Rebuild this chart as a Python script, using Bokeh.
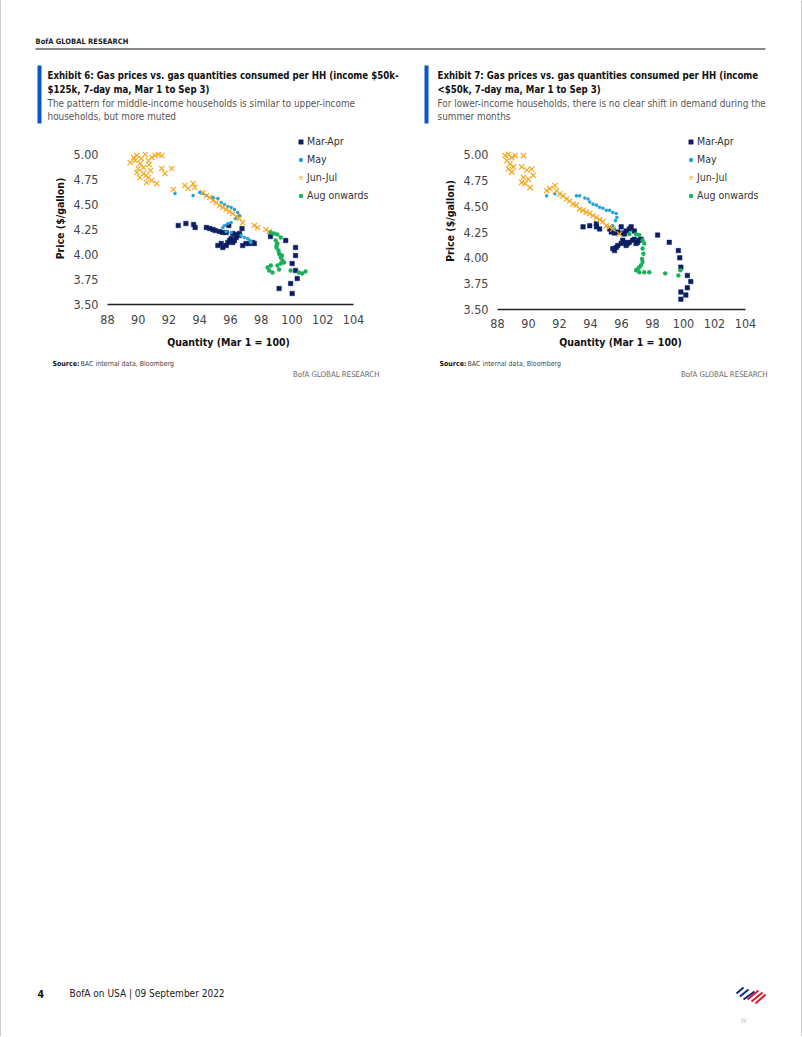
import subprocess
from bokeh.plotting import figure
from bokeh.layouts import column, row
from bokeh.models import Range1d, FixedTicker, PrintfTickFormatter
from bokeh.core.properties import value
from bokeh.embed import file_html
from bokeh.resources import INLINE


def font_available(name):
    try:
        out = subprocess.run(["fc-list", ":", "family"], capture_output=True, text=True).stdout
        return name.lower() in out.lower()
    except Exception:
        return False


NARROW = next((f for f in ["Liberation Sans Narrow", "DejaVu Sans Condensed", "Roboto Condensed"]
               if font_available(f)), "Roboto")

# ---------------- data ----------------
X_TICKS = [88, 90, 92, 94, 96, 98, 100, 102, 104]
Y_TICKS = [3.50, 3.75, 4.00, 4.25, 4.50, 4.75, 5.00]
SERIES = ["Mar-Apr", "May", "Jun-Jul", "Aug onwards"]
X_LABEL = "Quantity (Mar 1 = 100)"
Y_LABEL = "Price ($/gallon)"

# Exhibit 6: income $50k-$125k
ex6_marapr_q = [92.6, 93.1, 93.6, 93.7, 94.43, 94.65, 94.86, 95.0, 95.29, 95.5, 95.72, 95.89, 96.15, 96.37,
                96.58, 96.75, 95.18, 95.4, 95.5, 95.72, 95.83, 95.94, 96.04, 96.15, 96.26, 96.37, 96.58,
                96.79, 97.01, 97.23, 97.44, 97.55, 98.6, 99.59, 100.23, 100.23, 100.01, 100.23, 100.34,
                99.16, 99.91, 100.01]
ex6_marapr_p = [4.29, 4.31, 4.30, 4.27, 4.27, 4.26, 4.25, 4.24, 4.23, 4.22, 4.22, 4.29, 4.21, 4.20,
                4.21, 4.26, 4.09, 4.11, 4.07, 4.09, 4.12, 4.14, 4.16, 4.12, 4.14, 4.17, 4.19,
                4.09, 4.11, 4.11, 4.12, 4.11, 4.18, 4.14, 4.07, 3.99, 3.91, 3.84, 3.76,
                3.66, 3.71, 3.61]
ex6_may_q = [92.39, 93.57, 94.0, 94.21, 94.43, 94.86, 95.18, 95.4, 95.61, 95.83, 96.04, 96.26, 96.47,
             96.58, 96.32, 96.04, 95.83, 95.61, 95.5, 95.72, 96.04, 96.69, 96.9, 97.12, 97.27, 97.33]
ex6_may_p = [4.61, 4.59, 4.62, 4.61, 4.59, 4.57, 4.56, 4.52, 4.50, 4.48, 4.47, 4.45, 4.42,
             4.39, 4.36, 4.32, 4.31, 4.29, 4.27, 4.23, 4.22, 4.19, 4.17, 4.16, 4.14, 4.12]
ex6_junjul_q = [89.91, 90.45, 89.48, 89.7, 90.13, 90.34, 90.66, 90.88, 91.1, 91.31, 91.53, 89.91, 90.34,
                90.66, 90.88, 91.2, 90.55, 91.53, 91.74, 92.17, 92.28, 93.03, 93.25, 93.57, 93.68, 94.21,
                94.43, 94.65, 94.86, 95.07, 95.29, 95.5, 95.72, 95.94, 96.15, 96.37, 96.58, 96.79, 97.55,
                97.76, 98.3, 98.52, 89.8, 90.2, 90.7, 90.1, 90.5, 90.8, 90.0]
ex6_junjul_p = [4.99, 5.00, 4.92, 4.97, 4.91, 4.87, 4.94, 4.97, 4.99, 5.00, 4.99, 4.82, 4.81,
                4.77, 4.74, 4.71, 4.72, 4.86, 4.81, 4.86, 4.65, 4.69, 4.66, 4.71, 4.67, 4.62,
                4.59, 4.57, 4.54, 4.52, 4.49, 4.47, 4.45, 4.43, 4.41, 4.38, 4.36, 4.32, 4.29,
                4.27, 4.25, 4.23, 4.94, 4.96, 4.90, 4.77, 4.79, 4.84, 4.86]
ex6_aug_q = [98.62, 98.84, 99.05, 99.27, 98.94, 99.05, 98.99, 99.12, 99.16, 99.27, 99.38, 99.48, 99.27,
             99.05, 98.62, 98.41, 98.52, 98.73, 99.16, 99.91, 100.45, 100.66, 100.88, 99.0, 99.2, 99.35]
ex6_aug_p = [4.22, 4.21, 4.20, 4.17, 4.14, 4.11, 4.07, 4.04, 4.01, 3.97, 3.94, 3.92, 3.91,
             3.89, 3.89, 3.87, 3.84, 3.82, 3.85, 3.84, 3.82, 3.81, 3.83, 4.09, 4.00, 3.99]

# Exhibit 7: income <$50k
ex7_marapr_q = [93.52, 93.95, 94.38, 94.59, 95.23, 95.44, 95.34, 95.55, 95.76, 95.98, 96.08, 96.19, 96.3,
                96.51, 96.62, 96.83, 96.72, 96.51, 96.4, 96.3, 96.08, 96.19, 95.98, 95.76, 95.66, 95.55,
                95.44, 96.83, 96.94, 97.04, 97.15, 97.26, 98.33, 99.08, 99.67, 99.76, 99.83, 100.25,
                100.47, 100.25, 100.15, 99.83, 99.83, 94.38]
ex7_marapr_p = [4.30, 4.31, 4.30, 4.28, 4.28, 4.26, 4.25, 4.24, 4.25, 4.30, 4.24, 4.23, 4.26,
                4.28, 4.30, 4.26, 4.17, 4.15, 4.14, 4.12, 4.17, 4.15, 4.14, 4.12, 4.10, 4.07,
                4.09, 4.18, 4.14, 4.15, 4.17, 4.18, 4.22, 4.15, 4.07, 4.00, 3.91, 3.83,
                3.77, 3.71, 3.64, 3.67, 3.60, 4.33]
ex7_may_q = [91.17, 91.7, 93.09, 93.3, 93.63, 93.84, 93.95, 94.16, 94.38, 94.59, 94.8, 95.02, 95.23,
             95.44, 95.66, 95.7, 95.61, 95.44, 95.55]
ex7_may_p = [4.60, 4.62, 4.60, 4.60, 4.58, 4.57, 4.54, 4.52, 4.51, 4.49, 4.48, 4.46, 4.46,
             4.44, 4.43, 4.39, 4.36, 4.31, 4.28]
ex7_junjul_q = [88.49, 88.71, 88.92, 89.14, 88.6, 88.81, 89.03, 88.71, 88.92, 89.67, 89.56, 89.89, 90.21,
                90.31, 89.67, 89.99, 89.56, 90.1, 89.78, 91.17, 91.38, 91.7, 91.81, 92.02, 92.23, 92.45,
                92.66, 92.87, 93.09, 93.3, 93.52, 93.73, 93.95, 94.16, 94.38, 94.59, 94.8, 95.02, 95.23,
                95.44, 95.87]
ex7_junjul_p = [4.99, 5.00, 4.97, 4.99, 4.94, 4.91, 4.88, 4.86, 4.83, 4.99, 4.88, 4.85, 4.86,
                4.80, 4.78, 4.76, 4.73, 4.68, 4.72, 4.65, 4.67, 4.70, 4.65, 4.62, 4.60, 4.57,
                4.55, 4.52, 4.51, 4.47, 4.46, 4.44, 4.43, 4.41, 4.39, 4.37, 4.35, 4.31, 4.30,
                4.28, 4.23]
ex7_aug_q = [96.51, 96.94, 97.15, 97.36, 97.47, 97.36, 97.41, 97.33, 97.36, 97.26, 97.15, 97.04, 96.94,
             97.15, 97.47, 97.79, 98.82, 99.67, 99.8]
ex7_aug_p = [4.23, 4.23, 4.22, 4.17, 4.14, 4.09, 4.04, 3.99, 3.96, 3.93, 3.91, 3.89, 3.88,
             3.86, 3.86, 3.86, 3.85, 3.83, 3.88]

# ---------------- styles ----------------
NAVY = "#0c1f63"
LBLUE = "#27a3dc"
ORANGE = "#f3a720"
GREEN = "#1ab15a"
BAR_BLUE = "#0a55c8"
TXT = "#222222"
GREY_TXT = "#555555"
BORDER = "#9a9a9a"


def blank(w, h, x0, y0, bg="white"):
    f = figure(width=w, height=h, x_range=Range1d(x0, x0 + w), y_range=Range1d(y0 + h, y0),
               output_backend="svg", toolbar_location=None, min_border=0,
               x_axis_type=None, y_axis_type=None)
    f.outline_line_color = None
    f.background_fill_color = bg
    f.border_fill_color = bg
    f.frame_align = False
    return f


def txt(f, x, y, s, size, color=TXT, style="normal", align="left", font=None):
    f.text(x=[x], y=[y], text=[s], text_font=value(font or NARROW), text_font_size=size,
           text_font_style=style, text_color=color, text_align=align, text_baseline="middle")


# ---------------- header (page y 0..132) ----------------
W = 800
header = blank(W, 132, 1, 0)
txt(header, 35, 41, "BofA GLOBAL RESEARCH", "7.5px", color="#1a1a1a", style="bold")
header.segment(x0=[35], y0=[48.5], x1=[765], y1=[48.5], line_color="#111111", line_width=1.2)
for bx, tx, title, sub in [
    (37, 47, ["Exhibit 6: Gas prices vs. gas quantities consumed per HH (income $50k-",
              "$125k, 7-day ma, Mar 1 to Sep 3)"],
     ["The pattern for middle-income households is similar to upper-income",
      "households, but more muted"]),
    (424, 437, ["Exhibit 7: Gas prices vs. gas quantities consumed per HH (income",
                "<$50k, 7-day ma, Mar 1 to Sep 3)"],
     ["For lower-income households, there is no clear shift in demand during the",
      "summer months"]),
]:
    header.quad(left=[bx], right=[bx + 4], top=[65], bottom=[123], fill_color=BAR_BLUE, line_color=None)
    txt(header, tx, 75, title[0], "9.6px", color="#111111", style="bold")
    txt(header, tx, 89, title[1], "9.6px", color="#111111", style="bold")
    txt(header, tx, 103, sub[0], "9.9px", color=GREY_TXT)
    txt(header, tx, 116, sub[1], "9.9px", color=GREY_TXT)


# ---------------- charts (page y 132..335) ----------------
def chart(data, width, left, ppu, height, frame_h, ppd, legend_bottom, x_standoff):
    frame_w = width - left
    ytop = 3.5 + frame_h / ppd
    xend = 88 + frame_w / ppu
    p = figure(width=width, height=height, x_range=Range1d(88, xend), y_range=Range1d(3.5, ytop),
               output_backend="svg", toolbar_location=None,
               min_border_left=left, min_border_right=0,
               min_border_top=0, min_border_bottom=height - frame_h)
    p.frame_align = False
    p.outline_line_color = None
    p.grid.visible = False
    (mq, mp), (yq, yp), (jq, jp), (aq, ap) = data
    p.scatter(mq, mp, marker="square", size=4.5, fill_color=NAVY, line_color=NAVY, line_width=0.5,
              legend_label=SERIES[0])
    p.scatter(yq, yp, marker="circle", size=3.6, fill_color=LBLUE, line_color=None, legend_label=SERIES[1])
    p.scatter(jq, jp, marker="x", size=7.5, line_color=ORANGE, line_width=1.2, legend_label=SERIES[2])
    p.scatter(aq, ap, marker="circle", size=4.4, fill_color=GREEN, line_color=None, legend_label=SERIES[3])

    xa = p.xaxis[0]
    xa.ticker = FixedTicker(ticks=X_TICKS)
    xa.bounds = (X_TICKS[0], X_TICKS[-1])
    xa.minor_tick_line_color = None
    xa.major_tick_line_color = None
    xa.axis_line_color = "#222222"
    xa.axis_line_width = 1.3
    xa.major_label_standoff = x_standoff
    xa.major_label_text_font = NARROW
    xa.major_label_text_font_size = "12.5px"
    xa.major_label_text_color = "#444444"

    ya = p.yaxis[0]
    ya.ticker = FixedTicker(ticks=Y_TICKS)
    ya.formatter = PrintfTickFormatter(format="%.2f")
    ya.minor_tick_line_color = None
    ya.major_tick_line_color = None
    ya.axis_line_color = None
    ya.major_label_standoff = 3
    ya.major_label_text_font = NARROW
    ya.major_label_text_font_size = "12.5px"
    ya.major_label_text_color = "#444444"
    ya.axis_label = Y_LABEL
    ya.axis_label_text_font = NARROW
    ya.axis_label_text_font_size = "10.5px"
    ya.axis_label_text_font_style = "bold"
    ya.axis_label_text_color = "#111111"
    ya.axis_label_standoff = 4

    lg = p.legend[0]
    lg.location = (188, legend_bottom)
    lg.background_fill_alpha = 0
    lg.border_line_color = None
    lg.padding = 0
    lg.margin = 0
    lg.spacing = 4
    lg.label_height = 14
    lg.glyph_height = 11
    lg.glyph_width = 11
    lg.label_standoff = 1
    lg.label_text_font = NARROW
    lg.label_text_font_size = "10.5px"
    lg.label_text_color = "#333333"
    return p


c6 = chart([(ex6_marapr_q, ex6_marapr_p), (ex6_may_q, ex6_may_p), (ex6_junjul_q, ex6_junjul_p),
            (ex6_aug_q, ex6_aug_p)], 400, 106, 246 / 16, 203, 172, 100.0, 102, 4)
c7 = chart([(ex7_marapr_q, ex7_marapr_p), (ex7_may_q, ex7_may_p), (ex7_junjul_q, ex7_junjul_p),
            (ex7_aug_q, ex7_aug_p)], 400, 96, 248 / 16, 203, 177, 103.3, 107, 3)

# ---------------- axis titles, source + footer (page y 335..1036) ----------------
lower = blank(W, 701, 1, 335)
for qx, sx, bx, rx in [(228, 52, 80, 379), (620, 439, 467, 767)]:
    txt(lower, qx, 341, X_LABEL, "10.5px", color="#111111", style="bold", align="center")
    txt(lower, sx, 363, "Source:", "7px", color="#111111", style="bold")
    txt(lower, bx, 363, "BAC internal data, Bloomberg", "7px", color="#444444")
    txt(lower, rx, 374, "BofA GLOBAL RESEARCH", "7.8px", color="#666666", align="right")
txt(lower, 37, 993, "4", "10.5px", color="#111111", style="bold")
txt(lower, 69, 993, "BofA on USA | 09 September 2022", "10px", color="#222222")
# logo (flagscape)
lower.segment(x0=[736, 739.5, 743], y0=[993, 996, 999], x1=[743, 748, 754], y1=[987, 989, 991],
              line_color="#0c2a74", line_width=2)
lower.segment(x0=[747, 751, 755], y0=[999, 1001, 1003], x1=[758, 762, 765], y1=[990, 992, 994],
              line_color="#e1182f", line_width=2)
txt(lower, 740, 1020, "W", "7px", color="#c8c8c8")

content = column(header, row(c6, c7, spacing=0), lower, spacing=0)
left_strip = blank(1, 1036, 0, 0, bg=BORDER)
right_strip = blank(1, 1036, 0, 0, bg=BORDER)
bottom_strip = blank(802, 1, 0, 0, bg=BORDER)
page = column(row(left_strip, content, right_strip, spacing=0), bottom_strip, spacing=0)

open("out.html", "w").write(file_html(page, INLINE))
